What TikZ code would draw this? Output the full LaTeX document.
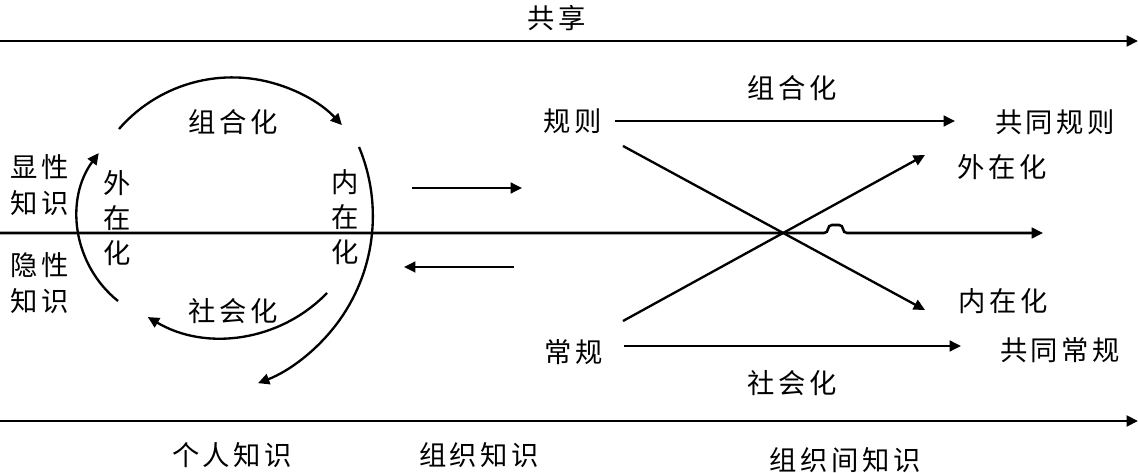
\documentclass[tikz,border=0pt]{standalone}
\usepackage{fontspec}
\newfontfamily\cjk[LetterSpace=13]{Noto Sans CJK SC}
\usetikzlibrary{arrows.meta}
\begin{document}
\begin{tikzpicture}[x=0.75pt,y=-0.75pt,
  txt/.style={font=\cjk\fontsize{20.5}{26}\selectfont, inner sep=0pt},
  vtxt/.style={inner sep=0pt, align=center, font=\cjk\fontsize{20.5}{26.25}\selectfont},
  ltxt/.style={inner sep=0pt, align=center, font=\cjk\fontsize{20.5}{27}\selectfont},
  tip/.style={-{Triangle[length=8.5pt,width=8pt]}},
  arr/.style={line width=1.75pt, tip},
  axis/.style={line width=2.2pt, tip}]
\useasboundingbox (0,0) rectangle (1138,473);

% axes
\coordinate (t0) at (0,41);   \coordinate (t1) at (1138,41);
\coordinate (b0) at (0,421);  \coordinate (b1) at (1138,421);
\coordinate (m0) at (0,233);  \coordinate (m1) at (1043,233);
\draw[axis] (t0) -- (t1);
\draw[axis] (b0) -- (b1);
\draw[line width=1.9pt, tip, rounded corners=3pt]
  (m0) -- (828,233) -- (828,225) -- (843,225) -- (843,233) -- (m1);

% texts
\node[txt] (share) at (557,18) {共享};
\node[txt] (pk) at (232,455) {个人知识};
\node[txt] (ok) at (479,455) {组织知识};
\node[txt] (ik) at (845,460) {组织间知识};
\node[ltxt] (exp) at (40,185) {显性\\知识};
\node[ltxt] (tac) at (40,283.5) {隐性\\知识};
\node[txt] (comb) at (233,122) {组合化};
\node[txt] (soc) at (233,311) {社会化};
\node[vtxt] (ext) at (117,218) {外\\在\\化};
\node[vtxt] (int) at (345,217) {内\\在\\化};

\node[txt] (rule) at (573,121) {规则};
\node[txt] (crule) at (1055,122) {共同规则};
\node[txt] (comb2) at (792,88) {组合化};
\node[txt] (ext2) at (1002,167) {外在化};
\node[txt] (int2) at (1003,301) {内在化};
\node[txt] (rout) at (574,352) {常规};
\node[txt] (crout) at (1060,350) {共同常规};
\node[txt] (soc2) at (792,383) {社会化};

% circle arcs
\coordinate (c1) at (119,129);
\coordinate (c2) at (359,147);
\coordinate (c3) at (327,293);
\coordinate (c4) at (118,301);
\draw[arr] (c1) arc[start angle=-139, end angle=-43, radius=150];
\draw[arr] (c2) arc[start angle=-22.7, end angle=69, radius=179];
\draw[arr] (c3) arc[start angle=44, end angle=120.7, radius=145.7];
\draw[arr] (c4) arc[start angle=128.7, end angle=216.5, radius=107.6];

% middle arrows
\coordinate (ma0) at (412,188); \coordinate (ma1) at (522,188);
\coordinate (mb0) at (514,267); \coordinate (mb1) at (404,267);
\draw[arr] (ma0) -- (ma1);
\draw[arr] (mb0) -- (mb1);

% right side
\coordinate (r0) at (615,121); \coordinate (r1) at (955,121);
\coordinate (s0) at (624,346); \coordinate (s1) at (961,346);
\coordinate (x0) at (623,146); \coordinate (x1) at (925,310);
\coordinate (y0) at (623,321); \coordinate (y1) at (925,155);
\draw[arr] (r0) -- (r1);
\draw[arr] (s0) -- (s1);
\draw[arr] (x0) -- (x1);
\draw[arr] (y0) -- (y1);
\end{tikzpicture}
\end{document}
